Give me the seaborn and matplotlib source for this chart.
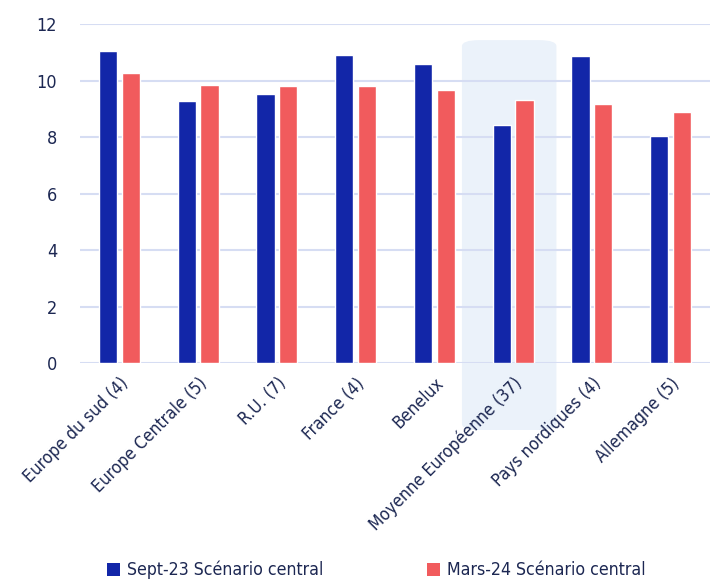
import matplotlib
matplotlib.use("Agg")
import matplotlib.pyplot as plt
from matplotlib.patches import FancyBboxPatch, Patch
import seaborn as sns
import pandas as pd

categories = ["Europe du sud (4)", "Europe Centrale (5)", "R.U. (7)", "France (4)",
              "Benelux", "Moyenne Européenne (37)", "Pays nordiques (4)", "Allemagne (5)"]
sept23 = [11.06, 9.29, 9.52, 10.90, 10.58, 8.42, 10.89, 8.06]
mars24 = [10.28, 9.86, 9.83, 9.82, 9.67, 9.32, 9.17, 8.88]
series_names = ["Sept-23 Scénario central", "Mars-24 Scénario central"]
yticks = [0, 2, 4, 6, 8, 10, 12]

df = pd.DataFrame({
    "cat": categories * 2,
    "val": sept23 + mars24,
    "serie": [series_names[0]] * len(categories) + [series_names[1]] * len(categories),
})

sns.set_theme(style="white")
plt.rcParams["font.family"] = ["DejaVu Sans"]
plt.rcParams["font.stretch"] = "condensed"
txt = "#1c2752"
blue = "#1226a8"
red = "#f15b5d"

fig = plt.figure(figsize=(7.17, 5.81), dpi=100)
ax = fig.add_axes([80 / 717, 1 - 363.3 / 581, 630 / 717, 339 / 581])

# highlight around the European average (behind bars)
hl = FancyBboxPatch((4.35, -2.36), 1.2, 11.44 + 2.36,
                    boxstyle="round,pad=0,rounding_size=0.22",
                    mutation_aspect=78.75 / 28.25 / 2.8,
                    facecolor="#ebf2fa", edgecolor="none",
                    zorder=0.2, clip_on=False)
ax.add_patch(hl)

sns.barplot(data=df, x="cat", y="val", hue="serie", palette=[blue, red],
            saturation=1, width=0.58, gap=0.2, ax=ax, legend=False, zorder=2)

ax.set_ylim(0, 12)
ax.set_xlim(-0.5, len(categories) - 0.5)
ax.set_yticks(yticks)
ax.set_yticklabels([str(t) for t in yticks])
ax.yaxis.grid(True, color="#d6ddf3", linewidth=1.5, zorder=0.5)
ax.set_axisbelow(True)
for s in ax.spines.values():
    s.set_visible(False)
ax.set_xlabel("")
ax.set_ylabel("")
ax.tick_params(axis="y", length=0, pad=16.5, labelsize=13, labelcolor=txt)
ax.tick_params(axis="x", length=0, pad=8, labelsize=12.5, labelcolor=txt)
for lab in ax.get_xticklabels():
    lab.set_rotation(45)
    lab.set_ha("right")
    lab.set_rotation_mode("anchor")
for lab in ax.get_yticklabels():
    lab.set_ha("right")

handles = [Patch(facecolor=blue, edgecolor="none"), Patch(facecolor=red, edgecolor="none")]
fig.legend(handles, series_names, loc="center", bbox_to_anchor=(0.525, 0.019),
           ncol=2, frameon=False, fontsize=12.7, labelcolor=txt,
           handlelength=0.75, handleheight=0.75, handletextpad=0.4, columnspacing=5.85)

fig.savefig("out.png", dpi=100)
